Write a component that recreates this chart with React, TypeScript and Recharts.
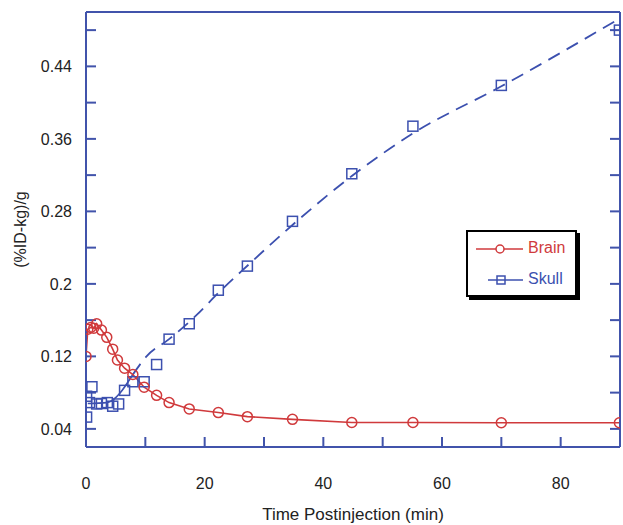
import React from "react";
import { ComposedChart, Line, Scatter, XAxis, YAxis, Label } from "recharts";

// Brain: measured points (joined by a solid line)
const brainTime = [0, 0.3, 0.8, 1.3, 1.8, 2.6, 3.5, 4.5, 5.3, 6.5, 7.9, 9.8, 11.9, 14, 17.4, 22.3, 27.2, 34.8, 44.8, 55.1, 70, 89.9];
const brainValue = [0.12, 0.15, 0.152, 0.151, 0.156, 0.149, 0.141, 0.128, 0.116, 0.107, 0.1, 0.086, 0.077, 0.069, 0.062, 0.058, 0.0535, 0.0505, 0.047, 0.047, 0.0467, 0.0467];

// Skull: measured points (squares only)
const skullTime = [0.1, 0.1, 0.6, 1, 1.8, 2.6, 3.6, 4.5, 5.5, 6.5, 7.9, 9.8, 11.9, 14, 17.4, 22.3, 27.2, 34.8, 44.8, 55.1, 70, 89.9];
const skullValue = [0.053, 0.076, 0.069, 0.0865, 0.0675, 0.068, 0.069, 0.065, 0.0675, 0.0825, 0.092, 0.092, 0.111, 0.139, 0.156, 0.193, 0.2196, 0.269, 0.3215, 0.374, 0.419, 0.48];

// Skull fit curve: solid early part, dashed after
const skullFitSolidTime = [0.3, 3.5, 7.9];
const skullFitSolidValue = [0.068, 0.069, 0.1];
const skullFitDashTime = [7.9, 10.2, 14, 18.7, 22.3, 27.2, 34.8, 44.8, 55.1, 70, 90];
const skullFitDashValue = [0.1, 0.12, 0.139, 0.166, 0.19, 0.22, 0.265, 0.319, 0.366, 0.418, 0.493];

const xTicks = [0, 10, 20, 30, 40, 50, 60, 70, 80, 90];
const xLabelTicks = [0, 20, 40, 60, 80];
const yTicks = [0.04, 0.08, 0.12, 0.16, 0.2, 0.24, 0.28, 0.32, 0.36, 0.4, 0.44, 0.48];
const yLabelTicks = [0.04, 0.12, 0.2, 0.28, 0.36, 0.44];

const AXIS = "#4153ab";
const RED = "#d03a3c";
const BLUE = "#3c50af";
const FONT = "'Liberation Sans', Arial, Helvetica, sans-serif";

const pair = (ts: number[], vs: number[]) => ts.map((t, i) => ({ t, v: vs[i] }));

const brainData = pair(brainTime, brainValue);
const skullData = pair(skullTime, skullValue);
const skullSolid = pair(skullFitSolidTime, skullFitSolidValue);
const skullDash = pair(skullFitDashTime, skullFitDashValue);

const SquareDot = (props: any) => {
  const { cx, cy } = props;
  return <rect x={cx - 5} y={cy - 5} width={10} height={10} fill="none" stroke={BLUE} strokeWidth={1.5} />;
};

const tickStyle = { fill: "#222", fontSize: 16, fontFamily: FONT };

export default function App() {
  return (
    <div style={{ position: "absolute", left: 0, top: 0, width: 623, height: 525, background: "#fff" }}>
      <ComposedChart width={623} height={525} margin={{ top: 12, right: 3, left: 0, bottom: 0 }}>
        <XAxis
          dataKey="t"
          type="number"
          domain={[0, 90]}
          ticks={xTicks}
          allowDataOverflow
          height={78}
          stroke={AXIS}
          axisLine={{ stroke: AXIS, strokeWidth: 2 }}
          tickLine={{ stroke: AXIS, strokeWidth: 2 }}
          tickSize={-10}
          tickMargin={41}
          tick={tickStyle}
          tickFormatter={(v: number) => (xLabelTicks.includes(v) ? String(v) : "")}
        >
          <Label value="Time Postinjection (min)" position="insideBottom" offset={5} style={{ fill: "#222", fontSize: 17, fontFamily: FONT }} />
        </XAxis>
        <XAxis
          xAxisId="top"
          orientation="top"
          type="number"
          domain={[0, 90]}
          ticks={xTicks}
          allowDataOverflow
          height={1}
          mirror
          axisLine={{ stroke: AXIS, strokeWidth: 2 }}
          tickLine={{ stroke: AXIS, strokeWidth: 2 }}
          tickSize={10}
          tickFormatter={() => ""}
        />
        <YAxis
          dataKey="v"
          type="number"
          domain={[0.02, 0.5]}
          ticks={yTicks}
          allowDataOverflow
          width={86}
          axisLine={{ stroke: AXIS, strokeWidth: 2 }}
          tickLine={{ stroke: AXIS, strokeWidth: 2 }}
          tickSize={-10}
          tickMargin={24}
          tick={tickStyle}
          tickFormatter={(v: number) => (yLabelTicks.includes(v) ? String(v) : "")}
        >
          <Label
            value="(%ID-kg)/g"
            angle={-90}
            position="insideLeft"
            offset={20}
            style={{ fill: "#222", fontSize: 16, fontFamily: FONT, textAnchor: "middle" }}
          />
        </YAxis>
        <YAxis
          yAxisId="right"
          orientation="right"
          type="number"
          domain={[0.02, 0.5]}
          ticks={yTicks}
          allowDataOverflow
          width={1}
          mirror
          axisLine={{ stroke: AXIS, strokeWidth: 2 }}
          tickLine={{ stroke: AXIS, strokeWidth: 2 }}
          tickSize={10}
          tickFormatter={() => ""}
        />

        <Line
          data={skullSolid}
          dataKey="v"
          type="monotone"
          stroke={BLUE}
          strokeWidth={1.6}
          dot={false}
          isAnimationActive={false}
        />
        <Line
          data={skullDash}
          dataKey="v"
          type="monotone"
          stroke={BLUE}
          strokeWidth={1.8}
          strokeDasharray="13 8"
          dot={false}
          isAnimationActive={false}
        />
        <Scatter data={skullData} dataKey="v" shape={SquareDot} isAnimationActive={false} />
        <Line
          data={brainData}
          dataKey="v"
          type="linear"
          stroke={RED}
          strokeWidth={1.6}
          dot={{ r: 5, fill: "none", stroke: RED, strokeWidth: 1.5 }}
          isAnimationActive={false}
        />
      </ComposedChart>

      {/* legend box */}
      <div
        style={{
          position: "absolute",
          left: 466,
          top: 230,
          width: 107,
          height: 63,
          border: "2px solid #000",
          boxShadow: "3px 3px 0 #000",
          background: "#fff",
          fontFamily: FONT,
          fontSize: 16,
        }}
      >
        <svg width={60} height={63} style={{ position: "absolute", left: 0, top: 0 }}>
          <line x1={8} y1={17} x2={55} y2={17} stroke={RED} strokeWidth={1.6} />
          <circle cx={32} cy={17} r={4} fill="#fff" stroke={RED} strokeWidth={1.5} />
          <line x1={20} y1={48} x2={55} y2={48} stroke={BLUE} strokeWidth={1.6} />
          <rect x={29} y={44} width={8} height={8} fill="none" stroke={BLUE} strokeWidth={1.5} />
        </svg>
        <div style={{ position: "absolute", left: 60, top: 7, color: RED }}>Brain</div>
        <div style={{ position: "absolute", left: 60, top: 38, color: BLUE }}>Skull</div>
      </div>
    </div>
  );
}
